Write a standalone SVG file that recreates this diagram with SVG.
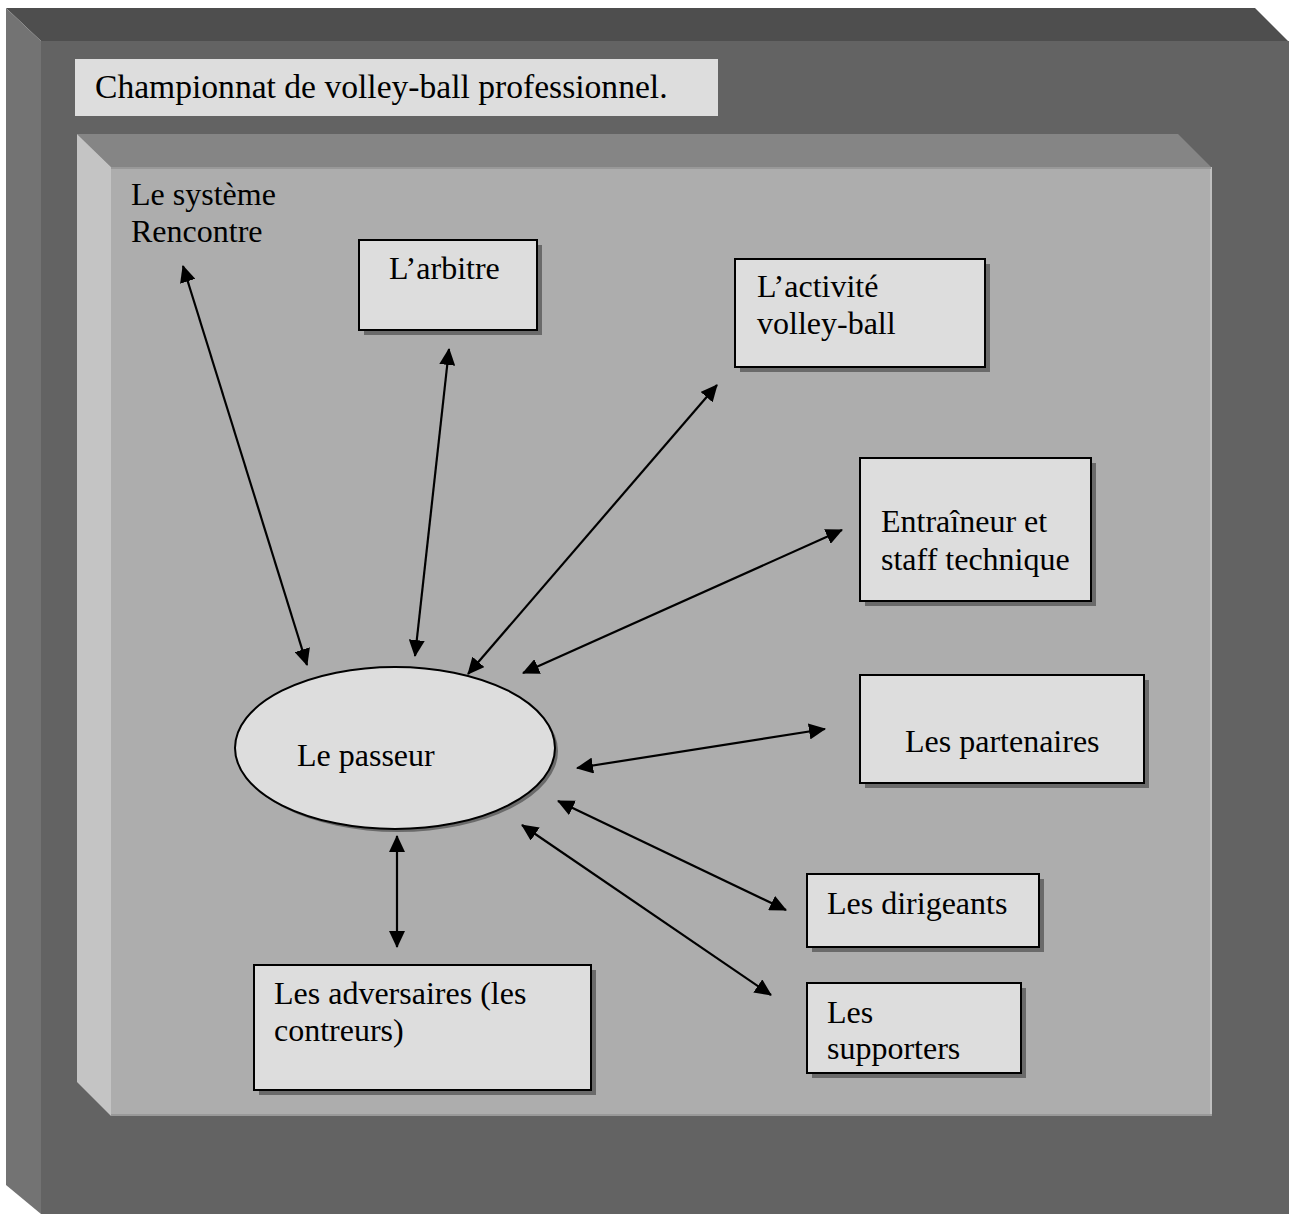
<svg xmlns="http://www.w3.org/2000/svg" width="1289" height="1214" viewBox="0 0 1289 1214">
<defs>
<marker id="ah" viewBox="0 0 17 16" markerWidth="17" markerHeight="16" refX="16" refY="8" orient="auto-start-reverse" markerUnits="userSpaceOnUse">
<path d="M0,0 L17,8 L0,16 z" fill="#000"/>
</marker>
</defs>
<style>
text{font-family:"Liberation Serif","Times New Roman",serif;font-size:32px;fill:#000}
.title{font-size:33.6px}
.box{fill:#dddddd;stroke:#000;stroke-width:2}
.sh{fill:#6a6a6a}
.conn line{stroke:#000;stroke-width:2.2;marker-start:url(#ah);marker-end:url(#ah)}
</style>
<rect width="1289" height="1214" fill="#ffffff"/>
<g id="outer-frame">
<polygon points="6,8 1255,8 1288,41 41,41" fill="#4e4e4e"/>
<polygon points="6,8 41,41 41,1214 6,1185" fill="#737373"/>
<rect x="41" y="41" width="1248" height="1173" fill="#636363"/>
</g>
<g id="title">
<rect x="75" y="59" width="643" height="57" fill="#dddddd"/>
<text class="title" x="95" y="98">Championnat de volley-ball professionnel.</text>
</g>
<g id="inner-frame">
<polygon points="77,134 1178,134 1211,167 111,167" fill="#858585"/>
<polygon points="77,134 111,167 111,1116 77,1082" fill="#c4c4c4"/>
<rect x="111" y="167" width="1101" height="949" fill="#adadad"/>
<line x1="1211" y1="167" x2="1211" y2="1116" stroke="#c0c0c0" stroke-width="2"/>
<line x1="111" y1="1115" x2="1212" y2="1115" stroke="#999" stroke-width="2"/>
<line x1="111" y1="168" x2="1211" y2="168" stroke="#999" stroke-width="2"/>
</g>
<g id="systeme-rencontre">
<text x="131" y="205">Le système</text>
<text x="131" y="242">Rencontre</text>
</g>
<g id="arbitre">
<rect class="sh" x="364" y="245" width="178" height="90"/>
<rect class="box" x="359" y="240" width="178" height="90"/>
<text x="389" y="279">L’arbitre</text>
</g>
<g id="activite">
<rect class="sh" x="740" y="264" width="250" height="108"/>
<rect class="box" x="735" y="259" width="250" height="108"/>
<text x="757" y="297">L’activité</text>
<text x="757" y="334">volley-ball</text>
</g>
<g id="entraineur">
<rect class="sh" x="865" y="463" width="231" height="143"/>
<rect class="box" x="860" y="458" width="231" height="143"/>
<text x="881" y="532">Entraîneur et</text>
<text x="881" y="570">staff technique</text>
</g>
<g id="partenaires">
<rect class="sh" x="865" y="680" width="284" height="108"/>
<rect class="box" x="860" y="675" width="284" height="108"/>
<text x="905" y="752">Les partenaires</text>
</g>
<g id="dirigeants">
<rect class="sh" x="812" y="879" width="232" height="73"/>
<rect class="box" x="807" y="874" width="232" height="73"/>
<text x="827" y="914">Les dirigeants</text>
</g>
<g id="supporters">
<rect class="sh" x="812" y="988" width="214" height="90"/>
<rect class="box" x="807" y="983" width="214" height="90"/>
<text x="827" y="1023">Les</text>
<text x="827" y="1059">supporters</text>
</g>
<g id="adversaires">
<rect class="sh" x="259" y="970" width="337" height="125"/>
<rect class="box" x="254" y="965" width="337" height="125"/>
<text x="274" y="1004">Les adversaires (les</text>
<text x="274" y="1041">contreurs)</text>
</g>
<g id="passeur">
<ellipse cx="398" cy="751" rx="160" ry="81" fill="#6a6a6a"/>
<ellipse class="box" cx="395" cy="748" rx="160" ry="81"/>
<text x="297" y="766">Le passeur</text>
</g>
<g class="conn" id="connectors">
<line x1="183" y1="266" x2="307" y2="665"/>
<line x1="449" y1="349" x2="415" y2="656"/>
<line x1="717" y1="385" x2="468" y2="674"/>
<line x1="842" y1="530" x2="523" y2="673"/>
<line x1="825" y1="729" x2="577" y2="768"/>
<line x1="558" y1="801" x2="786" y2="910"/>
<line x1="522" y1="825" x2="771" y2="995"/>
<line x1="397" y1="836" x2="397" y2="947"/>
</g>
</svg>
